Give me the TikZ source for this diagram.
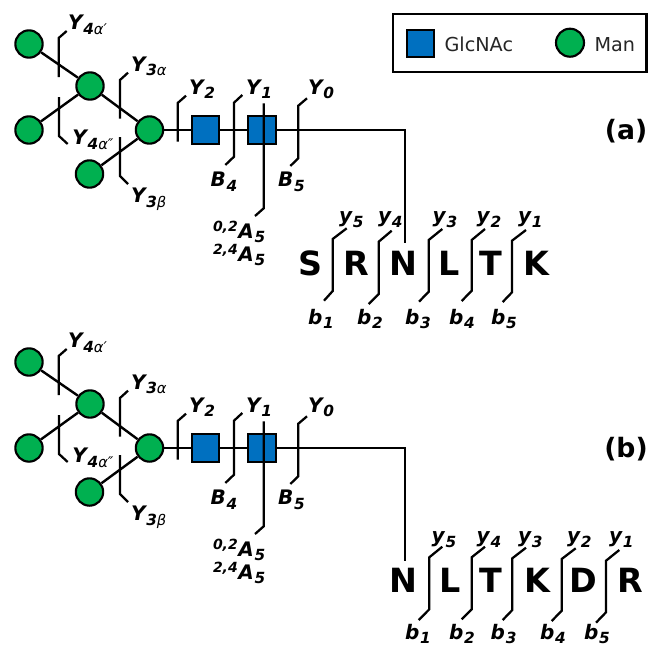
\documentclass[tikz,border=0pt]{standalone}
\usepackage{fontspec}
\setmainfont{DejaVu Sans}
\definecolor{glcblue}{HTML}{0070C0}
\definecolor{manGreen}{HTML}{00B050}
\newcommand{\Fbig}{\fontsize{15}{15}\selectfont\bfseries\itshape}
\newcommand{\Fsub}{\fontsize{11.5}{11.5}\selectfont\bfseries\itshape}
\newcommand{\Fgrk}{\fontsize{11}{11}\selectfont\mdseries\itshape}
% Fragment label: letter, subscript
\newcommand{\Frg}[2]{{\Fbig #1\hspace{0.6pt}\raisebox{-3.5pt}{\Fsub #2}}}
\newcommand{\Frga}[3]{{\Fbig #1\hspace{0.6pt}\raisebox{-3.5pt}{\Fsub #2\Fgrk #3}}}
\newcommand{\Cross}[2]{{\raisebox{5pt}{\Fsub\fontsize{10.5}{10.5}\selectfont #1}\hspace{0.5pt}\Fbig #2\hspace{0.6pt}\raisebox{-3.5pt}{\Fsub 5}}}
\tikzset{
  x=0.75pt,y=-0.75pt,
  man/.style={circle,draw=black,line width=1.6pt,fill=manGreen,minimum size=20.5pt,inner sep=0pt},
  glc/.style={rectangle,draw=black,line width=1.6pt,fill=glcblue,minimum size=20.5pt,inner sep=0pt},
  bond/.style={draw=black,line width=1.8pt},
  fragline/.style={draw=black,line width=1.7pt,line join=miter},
  lab/.style={anchor=base west,inner sep=0pt,outer sep=0pt},
  residue/.style={anchor=base,inner sep=0pt,font=\fontsize{25}{25}\selectfont\bfseries},
  tag/.style={anchor=base,inner sep=0pt,font=\fontsize{20}{20}\selectfont\bfseries},
  legendtext/.style={anchor=base west,inner sep=0pt,font=\fontsize{14.4}{14.4}\selectfont,text=black!85}
}
\newcommand{\Mark}[5]{%
  \coordinate (#1a) at #2; \coordinate (#1b) at #3; \coordinate (#1c) at #4; \coordinate (#1d) at #5;
  \draw[fragline] (#1a) -- (#1b) -- (#1c) -- (#1d);}
\newcommand{\Glycan}{%
  \node[man] (m1) at (29,44) {};
  \node[man] (m2) at (90,86) {};
  \node[man] (m3) at (29,130) {};
  \node[man] (m4) at (149.5,130) {};
  \node[man] (m5) at (89.5,174) {};
  \node[glc] (g1) at (205.5,130) {};
  \node[glc] (g2) at (262,130) {};
  \coordinate (corner) at (405,130);
  \coordinate (ntop) at (405,243);
  \draw[bond] (m1) -- (m2);
  \draw[bond] (m3) -- (m2);
  \draw[bond] (m2) -- (m4);
  \draw[bond] (m5) -- (m4);
  \draw[bond] (m4) -- (g1);
  \draw[bond] (g1) -- (g2);
  \draw[bond] (g2) -- (corner) -- (ntop);
  \Mark{f1}{(58.7,77)}{(58.7,38)}{(66.7,31)}{(66.7,31)}
  \Mark{f2}{(59,97)}{(59,136)}{(67.7,144)}{(67.7,144)}
  \Mark{f3}{(120,118.7)}{(120,80)}{(128,72.7)}{(128,72.7)}
  \Mark{f4}{(120,137)}{(120,176)}{(128,184)}{(128,184)}
  \Mark{f5}{(177.7,141.7)}{(177.7,103)}{(186,95.7)}{(186,95.7)}
  \Mark{f6}{(242.3,95)}{(234,102.7)}{(234,156.7)}{(225.3,165)}
  \Mark{f7}{(307,98.3)}{(298.3,105.7)}{(298.3,158.3)}{(290.3,166)}
  \Mark{f8}{(263.7,103.3)}{(263.7,208.3)}{(255,216)}{(255,216)}
  \node[lab] (l1) at (68,29.5) {\Frga{Y}{4}{α′}};
  \node[lab] (l2) at (72.3,144.5) {\Frga{Y}{4}{α″}};
  \node[lab] (l3) at (131,71) {\Frga{Y}{3}{α}};
  \node[lab] (l4) at (131,202.5) {\Frga{Y}{3}{β}};
  \node[lab] (l5) at (189,94) {\Frg{Y}{2}};
  \node[lab] (l6) at (246,94) {\Frg{Y}{1}};
  \node[lab] (l7) at (308,94) {\Frg{Y}{0}};
  \node[lab] (l8) at (210.7,186.5) {\Frg{B}{4}};
  \node[lab] (l9) at (278,186.5) {\Frg{B}{5}};
  \node[lab] (l10) at (213,238) {\Cross{0,2}{A}};
  \node[lab] (l11) at (213,261) {\Cross{2,4}{A}};
}
\begin{document}
\begin{tikzpicture}
\useasboundingbox (0,0) rectangle (649,647);
\fill[white] (0,0) rectangle (649,647);
% legend
\node[rectangle,draw=black,line width=1.7pt,minimum width=190pt,minimum height=43.5pt,inner sep=0pt] (legend) at (519.8,43.3) {};
\node[glc,minimum size=20.5pt] (lg) at (420.7,43.3) {};
\node[man,minimum size=21pt] (lm) at (570,42.7) {};
\node[legendtext] (lgt) at (444.3,51) {GlcNAc};
\node[legendtext] (lmt) at (594.3,51) {Man};
\node[tag] (ta) at (626,139) {(a)};
\node[tag] (tb) at (626,457) {(b)};
% panel a
\begin{scope}[name prefix=a-]
  \Glycan
  \foreach \n/\t/\xx in {1/S/310,2/R/356.7,3/N/403.7,4/L/449,5/T/491.3,6/K/536.7}{
    \node[residue] (r\n) at (\xx,275) {\t};}
  \Mark{p1}{(346.7,228.3)}{(332.7,239)}{(332.7,291)}{(324,300.7)}
  \Mark{p2}{(391.7,230.7)}{(378.7,241.7)}{(378.7,294)}{(368.7,304)}
  \Mark{p3}{(442.3,229)}{(428.7,240)}{(428.7,291.7)}{(419,301.7)}
  \Mark{p4}{(485,229)}{(471.7,240)}{(471.7,290.7)}{(461.7,301)}
  \Mark{p5}{(526,230)}{(512,240.7)}{(512,292.3)}{(502.7,302)}
  \foreach \n/\s/\xx in {5/5/339,4/4/378,3/3/432.7,2/2/476.7,1/1/518}{
    \node[lab] (y\n) at (\xx,222.5) {\Frg{y}{\s}};}
  \foreach \n/\s/\xx in {1/1/308,2/2/357,3/3/405,4/4/449,5/5/491}{
    \node[lab] (b\n) at (\xx,324) {\Frg{b}{\s}};}
\end{scope}
% panel b
\begin{scope}[name prefix=b-,yshift=-238.5pt]
  \Glycan
\end{scope}
\begin{scope}[name prefix=c-]
  \foreach \n/\t/\xx in {1/N/403.3,2/L/450,3/T/491,4/K/537.3,5/D/583.3,6/R/630.7}{
    \node[residue] (r\n) at (\xx,592.7) {\t};}
  \Mark{p1}{(442.3,546.7)}{(429.3,557.3)}{(429.3,609.3)}{(418.7,620)}
  \Mark{p2}{(485,546.7)}{(471.7,557.3)}{(471.7,609.3)}{(461.7,619.3)}
  \Mark{p3}{(526,547.7)}{(512.3,558.3)}{(512.3,610)}{(502.7,620)}
  \Mark{p4}{(575.7,548.3)}{(561.7,559)}{(561.7,610.7)}{(551.7,621)}
  \Mark{p5}{(619.3,550)}{(606,560.7)}{(606,612.3)}{(596,622.7)}
  \foreach \n/\s/\xx in {5/5/431.7,4/4/476.7,3/3/518,2/2/567,1/1/609}{
    \node[lab] (y\n) at (\xx,542.5) {\Frg{y}{\s}};}
  \foreach \n/\s/\xx in {1/1/405,2/2/449,3/3/490.7,4/4/540,5/5/584}{
    \node[lab] (b\n) at (\xx,639) {\Frg{b}{\s}};}
\end{scope}
\end{tikzpicture}
\end{document}
